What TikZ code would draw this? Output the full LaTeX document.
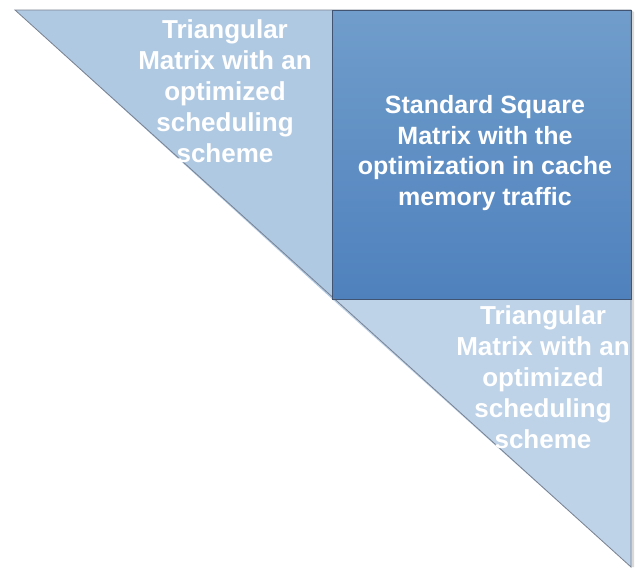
\documentclass[tikz,border=0pt]{standalone}
\usepackage{fontspec}
\setmainfont{Liberation Sans}
\definecolor{lightblue}{RGB}{176,201,226}
\definecolor{paleblue}{RGB}{190,210,232}
\definecolor{sqtop}{RGB}{112,157,203}
\definecolor{sqbottom}{RGB}{79,129,189}
\definecolor{edgegray}{RGB}{120,130,145}
\definecolor{sqedge}{RGB}{65,85,115}
\begin{document}
\begin{tikzpicture}
            [x=1pt,y=-1pt,thick, label/.style = {text=white,font=\fontsize{26}{31}\selectfont\bfseries,align=center,inner sep=0pt}]
            \useasboundingbox (0,0) rectangle (638,571);
            % corners
            \coordinate (TL) at (15,10);
            \coordinate (TM) at (332,10);
            \coordinate (TR) at (631,10);
            \coordinate (MM) at (332,299);
            \coordinate (MR) at (631,299);
            \coordinate (BR) at (631,567);
            % shadow
            \fill[black!15] (TR) ++(3,2) -- ([xshift=3pt]BR) -- (BR) -- (TR) -- cycle;
            \fill[lightblue] (TL) -- (TM) -- (MM) -- cycle;
            \fill[paleblue] (MM) -- (MR) -- (BR) -- cycle;
            \shade[top color=sqtop,bottom color=sqbottom] (TM) rectangle (MR);
            \draw[edgegray] (TL) -- (TR) -- (BR) -- cycle;
            \draw[sqedge] (TM) rectangle (MR);

            \node[label] (UpperTri) at (225,91) {Triangular\\Matrix with an\\optimized\\scheduling\\scheme};
            \node[label,font=\fontsize{25}{30.5}\selectfont\bfseries] (SquareMat) at (485,153) {Standard Square\\Matrix with the\\optimization in cache\\memory traffic};
            \node[label] (LowerTri) at (543,377) {Triangular\\Matrix with an\\optimized\\scheduling\\scheme};
        \end{tikzpicture}
\end{document}
